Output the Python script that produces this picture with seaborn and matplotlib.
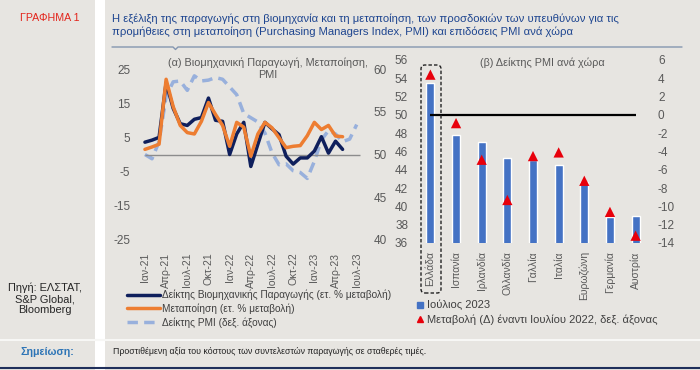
import matplotlib
matplotlib.use("Agg")
import matplotlib.pyplot as plt
import seaborn as sns
import pandas as pd
from matplotlib.lines import Line2D
from matplotlib.patches import FancyBboxPatch, Rectangle
from matplotlib.transforms import IdentityTransform

# ---- data (a): monthly, Jan-21 onwards ----
ip_yoy = [3.6, 4.2, 5.0, 21.0, 13.5, 9.0, 8.5, 10.3, 10.8, 16.5, 10.0, 9.7,
          0.0, 6.0, 9.4, -3.5, 3.0, 9.4, 7.5, 5.8, -0.5, -2.8, -1.0, -1.0,
          1.0, 5.2, 0.4, 3.9, 1.5]
manuf_yoy = [1.5, 2.2, 3.0, 22.0, 14.0, 8.5, 6.4, 6.0, 9.7, 15.2, 11.7, 8.5,
             2.4, 9.4, 8.0, -0.5, 6.0, 9.4, 7.8, 4.9, 2.0, 2.4, 2.6, 5.5,
             9.4, 7.3, 8.5, 5.4, 5.2]
pmi = [50.0, 49.5, 51.5, 56.8, 58.5, 58.6, 57.5, 59.2, 58.6, 58.7, 59.0, 58.8,
       57.9, 57.0, 54.8, 54.3, 53.8, 52.5, 50.2, 48.8, 48.9, 48.1, 47.9, 47.2,
       49.2, 51.7, 52.8, 52.4, 51.5, 51.8, 53.5]
quarter_labels = ["Ιαν-21", "Απρ-21", "Ιουλ-21", "Οκτ-21", "Ιαν-22", "Απρ-22",
                  "Ιουλ-22", "Οκτ-22", "Ιαν-23", "Απρ-23", "Ιουλ-23"]

# ---- data (b): PMI by country ----
countries = ["Ελλάδα", "Ισπανία", "Ιρλανδία", "Ολλανδία", "Γαλλία", "Ιταλία",
             "Ευρωζώνη", "Γερμανία", "Αυστρία"]
pmi_jul23 = [53.5, 47.8, 47.0, 45.3, 45.1, 44.5, 42.7, 38.8, 39.0]
pmi_change = [4.4, -0.9, -4.9, -9.3, -4.5, -4.1, -7.2, -10.6, -13.2]

BG = "#e7e5e1"
NAVY = "#0f1f5c"
ORANGE = "#ed7d31"
LBLUE = "#98b0dc"
BAR = "#4472c4"
TICK = "#595959"

sns.set_theme(style="white", rc={"axes.facecolor": BG, "figure.facecolor": BG})
plt.rcParams["font.family"] = ["Liberation Sans", "DejaVu Sans"]
plt.rcParams["axes.unicode_minus"] = False

W, H = 700, 370
fig = plt.figure(figsize=(7, 3.7), dpi=100)

def fx(px):
    return px / W

def fy(py):
    return 1 - py / H

# ---------- panel (a) ----------
ax1 = fig.add_axes([fx(140), fy(240), fx(368 - 140), (240 - 69) / H])
ax2 = ax1.twinx()

df_ip = pd.DataFrame({"m": range(len(ip_yoy)), "v": ip_yoy})
df_mf = pd.DataFrame({"m": range(len(manuf_yoy)), "v": manuf_yoy})
df_pmi = pd.DataFrame({"m": range(len(pmi)), "v": pmi})

ax1.hlines(0, 0, len(pmi) - 0.5, color="#8c8c8c", lw=1)
sns.lineplot(data=df_ip, x="m", y="v", ax=ax1, color=NAVY, lw=2.5,
             solid_joinstyle="round", solid_capstyle="round")
sns.lineplot(data=df_mf, x="m", y="v", ax=ax1, color=ORANGE, lw=2.5,
             solid_joinstyle="round", solid_capstyle="round")
sns.lineplot(data=df_pmi, x="m", y="v", ax=ax2, color=LBLUE, lw=2.5)
ax2.lines[-1].set_dashes([3, 1.8])
ax1.set_zorder(ax2.get_zorder() + 1)
ax1.patch.set_visible(False)

ax1.set_xlim(-0.7, 31.6)
ax1.set_ylim(-25, 25)
ax2.set_ylim(40, 60)
ax1.set_yticks([-25, -15, -5, 5, 15, 25])
ax2.set_yticks([40, 45, 50, 55, 60])
ax1.set_xticks(range(0, len(pmi), 3))
ax1.set_xticklabels(quarter_labels, rotation=90)
for a in (ax1, ax2):
    a.set_xlabel("")
    a.set_ylabel("")
    for s in a.spines.values():
        s.set_visible(False)
ax1.tick_params(axis="x", length=0, pad=9, labelsize=7.5, labelcolor=TICK)
ax1.tick_params(axis="y", length=0, pad=7, labelsize=8.5, labelcolor=TICK)
ax2.tick_params(axis="y", length=0, pad=4, labelsize=8.5, labelcolor=TICK)
ax1.grid(False)
ax2.grid(False)

fig.text(fx(268), fy(69), "(α) Βιομηχανική Παραγωγή, Μεταποίηση,\nPMI",
         ha="center", va="center", fontsize=7.8, color=TICK, linespacing=1.25)

leg_handles = [Line2D([], [], color=NAVY, lw=2.5),
               Line2D([], [], color=ORANGE, lw=2.5),
               Line2D([], [], color=LBLUE, lw=2.5, dashes=[3, 1.8])]
leg_labels = ["Δείκτης Βιομηχανικής Παραγωγής (ετ. % μεταβολή)",
              "Μεταποίηση (ετ. % μεταβολή)",
              "Δείκτης PMI (δεξ. άξονας)"]
fig.legend(leg_handles, leg_labels, loc="upper left",
           bbox_to_anchor=(fx(127), fy(290)), frameon=False, fontsize=7.3,
           handlelength=3.3, handletextpad=0.2, labelspacing=0.3,
           borderpad=0, borderaxespad=0, labelcolor="#404040")

# ---------- panel (b) ----------
ax3 = fig.add_axes([fx(415), fy(243), fx(651 - 415), (243 - 60) / H])
ax4 = ax3.twinx()
df_b = pd.DataFrame({"country": countries, "pmi": pmi_jul23, "chg": pmi_change})
sns.barplot(data=df_b, x="country", y="pmi", ax=ax3, color=BAR, width=0.32,
            saturation=1, bottom=0)
ax3.set_ylim(36, 56)
ax3.set_yticks(range(36, 57, 2))
ax4.set_ylim(-14, 6)
ax4.set_yticks(range(-14, 7, 2))
ax4.hlines(0, 0, len(countries) - 1, color="black", lw=1.6)
sns.scatterplot(data=df_b, x="country", y="chg", ax=ax4, marker="^",
                color="#e8000b", s=55, edgecolor="none", zorder=5)
ax3.set_xlim(-0.6, len(countries) - 0.4)
for a in (ax3, ax4):
    a.set_xlabel("")
    a.set_ylabel("")
    a.grid(False)
    for s in a.spines.values():
        s.set_visible(False)
ax3.tick_params(axis="x", length=0, pad=6, labelsize=7.5, labelcolor=TICK,
                labelrotation=90)
ax3.tick_params(axis="y", length=0, pad=5, labelsize=8.5, labelcolor=TICK)
ax4.tick_params(axis="y", length=0, pad=5, labelsize=8.5, labelcolor=TICK)

fig.text(fx(542), fy(63), "(β) Δείκτης PMI ανά χώρα", ha="center",
         va="center", fontsize=7.8, color=TICK)

box = FancyBboxPatch((421, H - 293), 20, 228,
                     boxstyle="round,pad=0,rounding_size=4",
                     transform=IdentityTransform(), fill=False,
                     ec="#222222", lw=1, ls=(0, (2.5, 1.5)))
fig.add_artist(box)

leg2_handles = [Line2D([], [], color=BAR, marker="s", ls="none", markersize=5),
                Line2D([], [], color="#e8000b", marker="^", ls="none", markersize=5)]
leg2_labels = ["Ιούλιος 2023", "Μεταβολή (Δ) έναντι Ιουλίου 2022, δεξ. άξονας"]
fig.legend(leg2_handles, leg2_labels, loc="upper left",
           bbox_to_anchor=(fx(416), fy(300)), frameon=False, fontsize=8.0,
           handlelength=0.7, handletextpad=0.3, labelspacing=0.35,
           borderpad=0, borderaxespad=0, labelcolor="#404040")

# ---------- page furniture ----------
fig.add_artist(Line2D([0, 1], [fy(368), fy(368)], transform=fig.transFigure,
                      color="#1f2f5a", lw=1.5))
fig.add_artist(Line2D([0, 1], [fy(340), fy(340)], transform=fig.transFigure,
                      color="#f7f7f5", lw=1.5))
fig.add_artist(Rectangle((fx(95), 0), fx(10), 1, transform=fig.transFigure,
                         color="white", lw=0))
fig.add_artist(Line2D([fx(112), fx(173), fx(175.5), fx(178), fx(682)],
                      [fy(47), fy(47), fy(49.5), fy(47), fy(47)],
                      transform=fig.transFigure, color="#8496b0", lw=1))

fig.text(fx(50), fy(18), "ΓΡΑΦΗΜΑ 1", ha="center", va="center",
         fontsize=7.7, color="#e3241b")
fig.text(fx(112), fy(25.5),
         "Η εξέλιξη της παραγωγής στη βιομηχανία και τη μεταποίηση, των προσδοκιών των υπευθύνων για τις\n"
         "προμήθειες στη μεταποίηση (Purchasing Managers Index, PMI) και επιδόσεις PMI ανά χώρα",
         ha="left", va="center", fontsize=8.1, color="#1f4690", linespacing=1.25)
fig.text(fx(45), fy(299), "Πηγή: ΕΛΣΤΑΤ,\nS&P Global,\nBloomberg", ha="center",
         va="center", fontsize=7.9, color="#262626", linespacing=1.15)
fig.text(fx(47), fy(352), "Σημείωση:", ha="center", va="center",
         fontsize=7.7, color="#2e75b6", fontweight="bold")
fig.text(fx(113), fy(351),
         "Προστιθέμενη αξία του κόστους των συντελεστών παραγωγής σε σταθερές τιμές.",
         ha="left", va="center", fontsize=6.3, color="#222222")

fig.savefig("out.png", dpi=100, facecolor=fig.get_facecolor())
